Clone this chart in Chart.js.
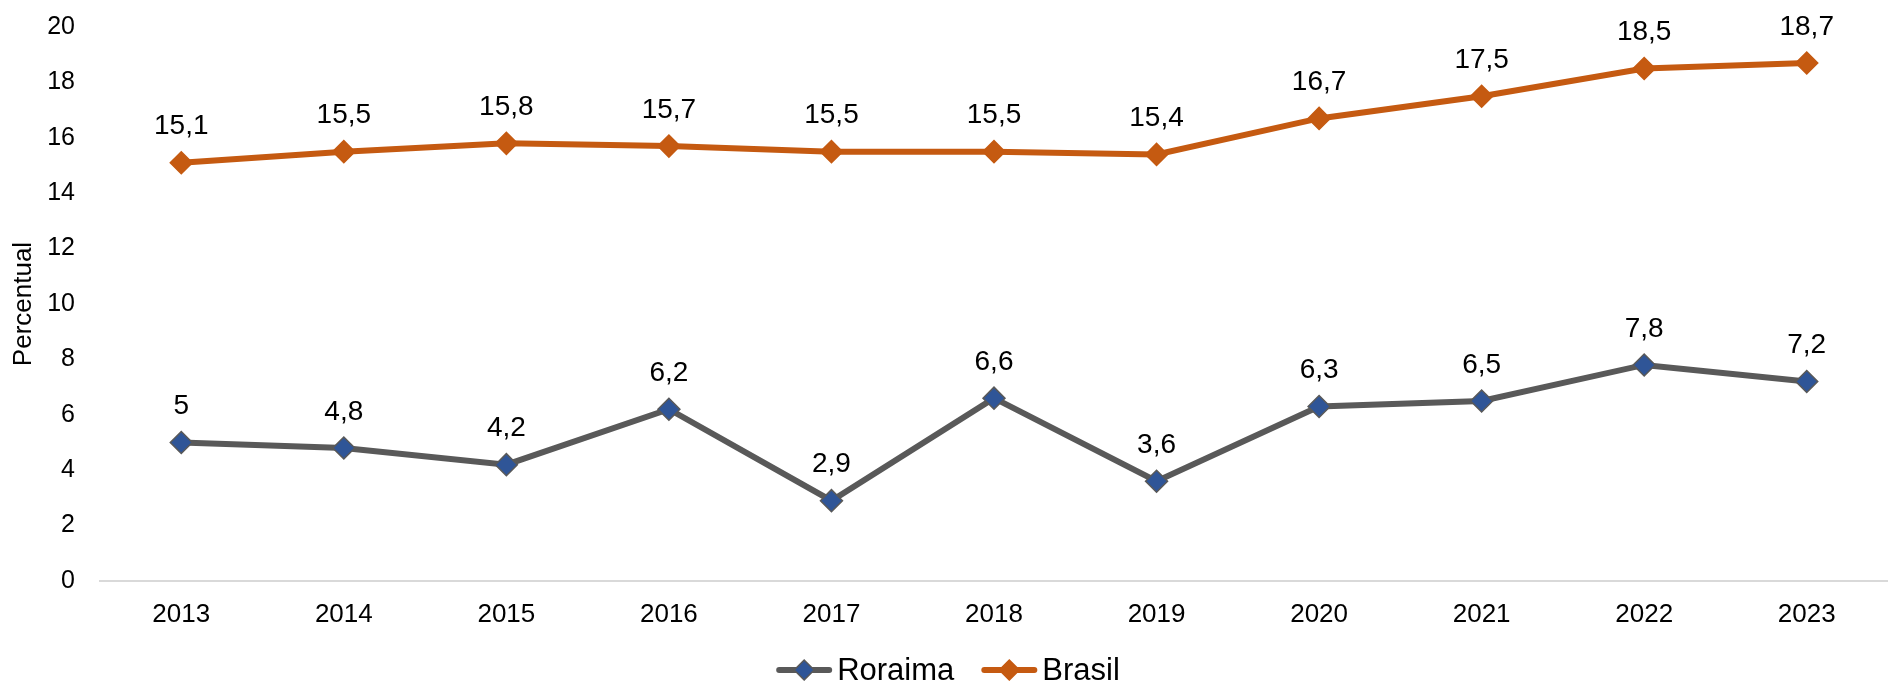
<!DOCTYPE html>
<html>
<head>
<meta charset="utf-8">
<script src="https://cdn.jsdelivr.net/npm/chart.js@4.4.1/dist/chart.umd.min.js"></script>
<style>
html,body{margin:0;padding:0;background:#fff;}
#wrap{width:1888px;height:681px;position:relative;}
</style>
</head>
<body>
<div id="wrap"><canvas id="c" width="1888" height="681"></canvas></div>
<script>
const categories = ['2013','2014','2015','2016','2017','2018','2019','2020','2021','2022','2023'];
const roraima = [5, 4.8, 4.2, 6.2, 2.9, 6.6, 3.6, 6.3, 6.5, 7.8, 7.2];
const brasil = [15.1, 15.5, 15.8, 15.7, 15.5, 15.5, 15.4, 16.7, 17.5, 18.5, 18.7];
const seriesNames = ['Roraima', 'Brasil'];
const yTicks = [0, 2, 4, 6, 8, 10, 12, 14, 16, 18, 20];
const yTitle = 'Percentual';

const FONT = '"Liberation Sans", Arial, sans-serif';

const dataLabels = {
  id: 'dataLabels',
  afterDatasetsDraw(chart) {
    const ctx = chart.ctx;
    ctx.save();
    ctx.font = '28px ' + FONT;
    ctx.fillStyle = '#000';
    ctx.textAlign = 'center';
    ctx.textBaseline = 'middle';
    chart.data.datasets.forEach((ds, i) => {
      const meta = chart.getDatasetMeta(i);
      meta.data.forEach((pt, j) => {
        const txt = String(ds.data[j]).replace('.', ',');
        ctx.fillText(txt, pt.x, pt.y - 36);
      });
    });
    ctx.restore();
  }
};

const customLegend = {
  id: 'customLegend',
  afterDraw(chart) {
    const ctx = chart.ctx;
    ctx.save();
    ctx.font = '31px ' + FONT;
    ctx.textBaseline = 'middle';
    const lineW = 56, gap = 5, itemGap = 27;
    const items = chart.data.datasets.map(ds => ({ds, w: ctx.measureText(ds.label).width}));
    let total = 0;
    items.forEach((it, i) => { total += lineW + gap + it.w + (i < items.length - 1 ? itemGap : 0); });
    let x = chart.width / 2 - total / 2 + 4;
    const y = 670;
    items.forEach(it => {
      const ds = it.ds;
      ctx.strokeStyle = ds.borderColor;
      ctx.lineWidth = 6;
      ctx.lineCap = 'round';
      ctx.beginPath();
      ctx.moveTo(x + 3, y);
      ctx.lineTo(x + lineW - 3, y);
      ctx.stroke();
      const cx = x + lineW / 2, r = 10;
      ctx.beginPath();
      ctx.moveTo(cx - r, y); ctx.lineTo(cx, y - r); ctx.lineTo(cx + r, y); ctx.lineTo(cx, y + r); ctx.closePath();
      ctx.fillStyle = ds.pointBackgroundColor;
      ctx.fill();
      ctx.lineWidth = 1.5;
      ctx.strokeStyle = ds.pointBorderColor;
      ctx.stroke();
      ctx.fillStyle = '#000';
      ctx.textAlign = 'left';
      ctx.fillText(ds.label, x + lineW + gap, y + 1);
      x += lineW + gap + it.w + itemGap;
    });
    ctx.restore();
  }
};

function zeroPad(s) { s.paddingTop = 0; s.paddingBottom = 0; s.paddingLeft = 0; s.paddingRight = 0; }

new Chart(document.getElementById('c'), {
  type: 'line',
  data: {
    labels: categories,
    datasets: [
      {
        label: seriesNames[0],
        data: roraima,
        borderColor: '#595959',
        borderWidth: 6,
        pointStyle: 'rectRot',
        pointRadius: 11,
        pointHoverRadius: 11,
        pointBackgroundColor: '#2F5597',
        pointBorderColor: '#595959',
        pointBorderWidth: 1.5,
        tension: 0,
        fill: false,
        clip: false
      },
      {
        label: seriesNames[1],
        data: brasil,
        borderColor: '#C55A11',
        borderWidth: 6,
        pointStyle: 'rectRot',
        pointRadius: 11,
        pointHoverRadius: 11,
        pointBackgroundColor: '#C55A11',
        pointBorderColor: '#C55A11',
        pointBorderWidth: 1.5,
        tension: 0,
        fill: false,
        clip: false
      }
    ]
  },
  options: {
    responsive: false,
    animation: false,
    layout: { autoPadding: false, padding: { top: 27, right: 0, left: 0, bottom: 0 } },
    plugins: {
      legend: { display: false },
      tooltip: { enabled: false }
    },
    scales: {
      x: {
        offset: true,
        grid: { display: false, drawTicks: false },
        border: { display: true, color: '#d9d9d9', width: 2 },
        ticks: { color: '#000', font: { family: FONT, size: 26 }, padding: 18, maxRotation: 0 },
        afterFit(s) { s.height = 100; zeroPad(s); }
      },
      y: {
        min: 0, max: 20,
        afterBuildTicks(s) { s.ticks = yTicks.map(v => ({ value: v })); },
        grid: { display: false, drawTicks: false },
        border: { display: false },
        ticks: { color: '#000', font: { family: FONT, size: 25 }, padding: 25 },
        title: { display: true, text: yTitle, color: '#000', font: { family: FONT, size: 26 }, padding: { top: 8, bottom: 0 } },
        afterFit(s) { s.width = 100; zeroPad(s); }
      }
    }
  },
  plugins: [dataLabels, customLegend]
});
</script>
</body>
</html>
